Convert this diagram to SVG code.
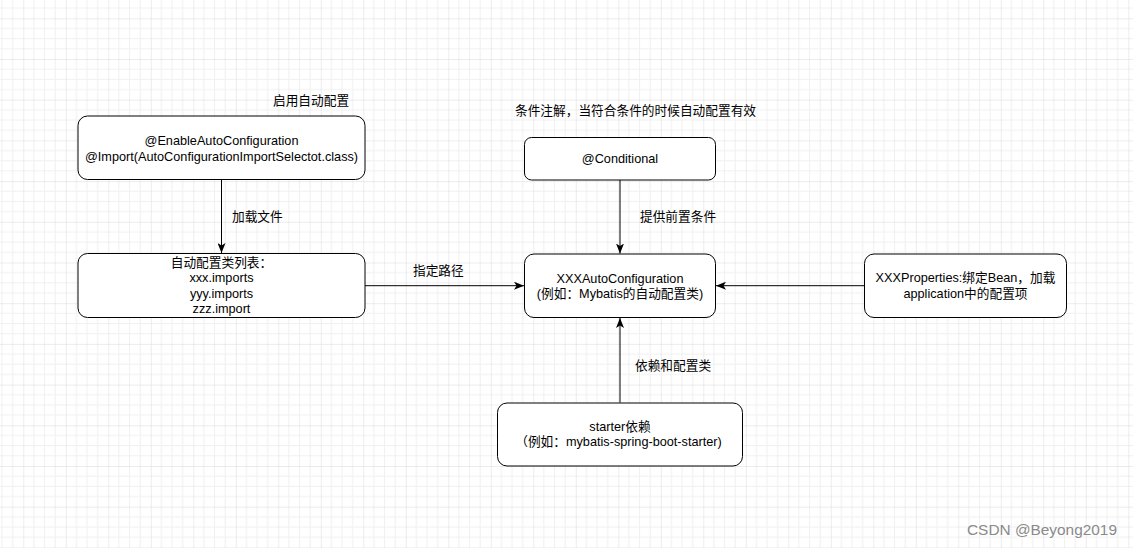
<svg xmlns="http://www.w3.org/2000/svg" width="1133" height="548" viewBox="0 0 1133 548">
  <defs>
    <!-- background grid: 4 minor cells per major cell -->
    <pattern id="grid" patternUnits="userSpaceOnUse" x="23.3" y="18.3" width="42.5" height="40.7">
      <g stroke="#f0f0f0" stroke-width="1">
        <line x1="10.625" y1="0" x2="10.625" y2="40.7"/>
        <line x1="21.25" y1="0" x2="21.25" y2="40.7"/>
        <line x1="31.875" y1="0" x2="31.875" y2="40.7"/>
        <line x1="0" y1="10.175" x2="42.5" y2="10.175"/>
        <line x1="0" y1="20.35" x2="42.5" y2="20.35"/>
        <line x1="0" y1="30.525" x2="42.5" y2="30.525"/>
      </g>
      <g stroke="#dadada" stroke-width="1">
        <line x1="0" y1="0" x2="0" y2="40.7"/>
        <line x1="0" y1="0" x2="42.5" y2="0"/>
      </g>
    </pattern>
    <marker id="arrow" markerUnits="userSpaceOnUse" viewBox="0 0 10 8" refX="10" refY="4" markerWidth="10" markerHeight="8" orient="auto">
      <path d="M0,0 L10,4 L0,8 L2.5,4 Z" fill="#000"/>
    </marker>
    <style>
      .box { fill: #fff; stroke: #000; stroke-width: 1; }
      .t { font-family: "Liberation Sans", "Noto Sans CJK SC", sans-serif; font-size: 12.7px; fill: #000; }
      .c { text-anchor: middle; }
      .edge { fill: none; stroke: #000; stroke-width: 1; marker-end: url(#arrow); }
      .wm { font-family: "Liberation Sans", sans-serif; font-size: 15.4px; fill: #8a8a8a; }
    </style>
  </defs>

  <rect width="1133" height="548" fill="#fff"/>
  <rect width="1133" height="548" fill="url(#grid)"/>

  <!-- connectors -->
  <g id="connectors">
    <path class="edge" d="M221.5,180 L221.5,253"/>
    <path class="edge" d="M365,285.7 L524,285.7"/>
    <path class="edge" d="M620,180 L620,253.5"/>
    <path class="edge" d="M864,285.7 L716,285.7"/>
    <path class="edge" d="M620,402.5 L620,318"/>
    <text class="t" x="232" y="220.7">加载文件</text>
    <text class="t" x="413" y="274.5">指定路径</text>
    <text class="t" x="640" y="220.7">提供前置条件</text>
    <text class="t" x="635" y="370">依赖和配置类</text>
  </g>

  <!-- free labels -->
  <g id="labels">
    <text class="t" x="273" y="104.5">启用自动配置</text>
    <text class="t" x="515" y="114.5">条件注解，当符合条件的时候自动配置有效</text>
  </g>

  <g id="enable-auto-config">
    <rect class="box" x="78" y="116" width="287" height="63.5" rx="9.5" ry="9.5"/>
    <text class="t c" x="221.5" y="145">@EnableAutoConfiguration</text>
    <text class="t c" x="221.5" y="160.5">@Import(AutoConfigurationImportSelectot.class)</text>
  </g>

  <g id="imports-list">
    <rect class="box" x="78" y="253.5" width="287" height="64" rx="9.5" ry="9.5"/>
    <text class="t c" x="221.5" y="266.5">自动配置类列表：</text>
    <text class="t c" x="221.5" y="282">xxx.imports</text>
    <text class="t c" x="221.5" y="297.5">yyy.imports</text>
    <text class="t c" x="221.5" y="312.5">zzz.import</text>
  </g>

  <g id="conditional">
    <rect class="box" x="524.5" y="137.5" width="191" height="42.5" rx="7" ry="7"/>
    <text class="t c" x="620" y="163">@Conditional</text>
  </g>

  <g id="auto-configuration">
    <rect class="box" x="524.5" y="254" width="191" height="63.5" rx="9.5" ry="9.5"/>
    <text class="t c" x="620" y="282.5">XXXAutoConfiguration</text>
    <text class="t c" x="620" y="297.5">(例如：Mybatis的自动配置类)</text>
  </g>

  <g id="properties">
    <rect class="box" x="864.5" y="254" width="202" height="63.5" rx="9.5" ry="9.5"/>
    <text class="t c" x="965.5" y="282">XXXProperties:绑定Bean，加载</text>
    <text class="t c" x="965.5" y="297.5">application中的配置项</text>
  </g>

  <g id="starter">
    <rect class="box" x="497.5" y="403" width="245" height="63" rx="9.5" ry="9.5"/>
    <text class="t c" x="620" y="431">starter依赖</text>
    <text class="t c" x="618.5" y="446">（例如：mybatis-spring-boot-starter)</text>
  </g>

  <text class="wm" x="967" y="535">CSDN @Beyong2019</text>
</svg>
